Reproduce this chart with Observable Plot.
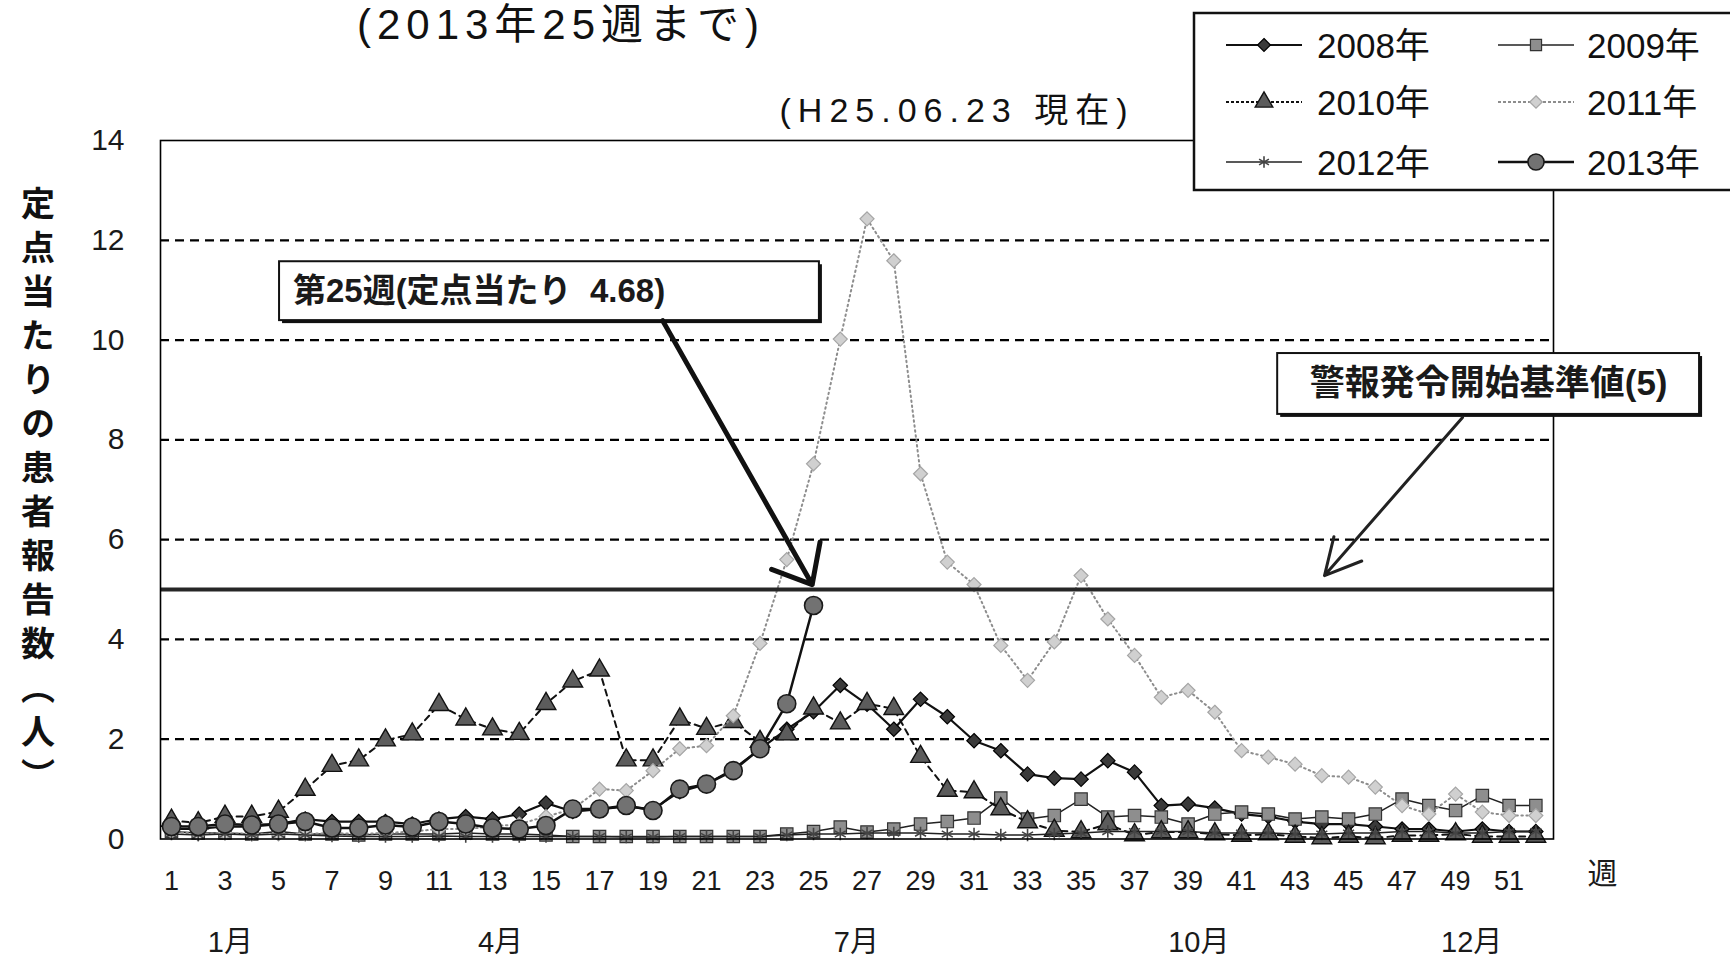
<!DOCTYPE html>
<html><head><meta charset="utf-8">
<script src="https://cdn.jsdelivr.net/npm/d3@7"></script>
<script src="https://cdn.jsdelivr.net/npm/@observablehq/plot@0.6"></script>
<style>
html,body{margin:0;padding:0;background:#fff;}
#chart svg{display:block;}
</style></head>
<body><div id="chart"></div>
<script>
// ---------- data ----------
const weeks = [1,2,3,4,5,6,7,8,9,10,11,12,13,14,15,16,17,18,19,20,21,22,23,24,25,26,27,28,29,30,31,32,33,34,35,36,37,38,39,40,41,42,43,44,45,46,47,48,49,50,51,52];
const cases2008 = [0.2,0.2,0.25,0.25,0.3,0.4,0.35,0.35,0.35,0.3, 0.4,0.45,0.4,0.5,0.72,0.55,0.6,0.65,0.6,0.95, 1.1,1.4,1.8,2.2,2.55,3.08,2.7,2.2,2.8,2.45, 1.97,1.77,1.3,1.22,1.2,1.57,1.34,0.67,0.7,0.62, 0.5,0.45,0.35,0.3,0.3,0.25,0.2,0.2,0.15,0.2,0.15,0.15];
const cases2009 = [0.15,0.12,0.12,0.1,0.15,0.1,0.1,0.08,0.1,0.1, 0.1,0.12,0.1,0.1,0.08,0.05,0.05,0.05,0.05,0.05, 0.05,0.05,0.05,0.1,0.15,0.24,0.14,0.2,0.3,0.35, 0.42,0.82,0.4,0.47,0.8,0.44,0.47,0.44,0.3,0.5, 0.54,0.5,0.4,0.44,0.4,0.5,0.8,0.67,0.57,0.87,0.67,0.67];
const cases2010 = [0.37,0.32,0.45,0.45,0.55,0.99,1.47,1.58,1.98,2.1, 2.69,2.4,2.2,2.11,2.71,3.16,3.38,1.58,1.58,2.4, 2.21,2.35,1.95,2.1,2.62,2.32,2.71,2.61,1.65,0.97, 0.94,0.6,0.34,0.17,0.14,0.3,0.08,0.14,0.14,0.1, 0.07,0.1,0.05,0.02,0.05,0.02,0.07,0.07,0.1,0.05,0.05,0.05];
const cases2011 = [0.15,0.1,0.12,0.1,0.1,0.1,0.12,0.1,0.12,0.15, 0.2,0.2,0.25,0.3,0.45,0.6,1.0,0.97,1.37,1.81, 1.87,2.47,3.92,5.6,7.52,10.02,12.43,11.59,7.32,5.55, 5.1,3.88,3.18,3.95,5.28,4.41,3.68,2.84,2.98,2.54, 1.77,1.64,1.5,1.27,1.24,1.04,0.67,0.5,0.9,0.54,0.47,0.47];
const cases2012 = [0.1,0.08,0.1,0.08,0.1,0.08,0.06,0.05,0.05,0.05, 0.06,0.05,0.05,0.05,0.05,0.05,0.05,0.04,0.04,0.05, 0.05,0.05,0.05,0.08,0.1,0.1,0.12,0.12,0.12,0.1, 0.1,0.08,0.08,0.1,0.12,0.15,0.15,0.15,0.15,0.12, 0.12,0.12,0.1,0.1,0.12,0.12,0.15,0.15,0.12,0.12,0.15,0.15];
const cases2013 = [0.25,0.25,0.3,0.28,0.3,0.35,0.22,0.22,0.28,0.24, 0.35,0.3,0.22,0.2,0.27,0.6,0.6,0.67,0.57,1.0, 1.1,1.37,1.81,2.71,4.68];

const seriesNames = ["2008年","2009年","2010年","2011年","2012年","2013年"];
const seriesValues = [cases2008, cases2009, cases2010, cases2011, cases2012, cases2013];

const yTicks = [0,2,4,6,8,10,12,14];
const gridValues = [2,4,6,8,10,12];
const xTicks = [1,3,5,7,9,11,13,15,17,19,21,23,25,27,29,31,33,35,37,39,41,43,45,47,49,51];
const monthLabels = ["1月","4月","7月","10月","12月"];
const monthWeeks = [3.2,13.3,26.6,39.4,49.6];
const alertLevel = 5;
const latestWeek = 25;
const latestValue = 4.68;

const titleText = "(2013年25週まで)";
const subtitleText = "(H25.06.23 現在)";
const yLabelText = "定点当たりの患者報告数（人）";
const xUnitText = "週";
const noteLatest = "第25週(定点当たり  4.68)";
const noteAlert = "警報発令開始基準値(5)";

// ---------- styles ----------
const FONT = "'Liberation Sans','Noto Sans CJK JP',sans-serif";
const styles = {
  "2008年": {stroke:"#111", sw:2.2, dash:null, symbol:"diamond2", r:6.5, fill:"#3a3a3a", mstroke:"#000", msw:1.2},
  "2009年": {stroke:"#222", sw:1.5, dash:null, symbol:"square", r:7, fill:"#8e8e8e", mstroke:"#333", msw:1.2},
  "2010年": {stroke:"#111", sw:2, dash:"6,5", symbol:"triangle", r:7.3, fill:"#5c5c5c", mstroke:"#111", msw:1.4},
  "2011年": {stroke:"#8d8d8d", sw:2, dash:"1.5,3.5", symbol:"diamond2", r:6.3, fill:"#d0d0d0", mstroke:"#a5a5a5", msw:1.2},
  "2012年": {stroke:"#222", sw:1.5, dash:null, symbol:"asterisk", r:6, fill:"none", mstroke:"#444", msw:1.6},
  "2013年": {stroke:"#111", sw:2.5, dash:null, symbol:"circle", r:9, fill:"#727272", mstroke:"#1a1a1a", msw:1.6}
};

// ---------- build rows ----------
const seriesRows = seriesNames.map((name, i) =>
  seriesValues[i].map((v, j) => ({week: weeks[j], value: v, year: name})));

const seriesMarks = [];
seriesNames.forEach((name, i) => {
  const st = styles[name];
  seriesMarks.push(Plot.line(seriesRows[i], {x:"week", y:"value", stroke:st.stroke, strokeWidth:st.sw, strokeDasharray:st.dash ?? undefined, strokeLinecap: st.dash ? "round" : "butt"}));
  seriesMarks.push(Plot.dot(seriesRows[i], {x:"week", y:"value", symbol:()=>st.symbol, r:st.r, fill:st.fill, stroke:st.mstroke, strokeWidth:st.msw}));
});

const monthRows = monthLabels.map((m, i) => ({week: monthWeeks[i], label: m}));

// annotation layout (data space)
const latestBox = {x1:5.04, x2:25.22, y1:10.39, y2:11.57};
const alertBox = {x1:42.35, x2:58.12, y1:8.51, y2:9.73};
const arrowLatest = {x1:19.36, y1:10.39, x2:latestWeek - 0.05, y2:alertLevel + 0.1};
const arrowAlert = {x1:49.26, y1:8.45, x2:44.1, y2:alertLevel + 0.28};

const chart = Plot.plot({
  width: 1730, height: 971,
  marginLeft: 160, marginRight: 177, marginTop: 140, marginBottom: 132.5,
  x: {domain: [0.59, 52.66]},
  y: {domain: [0, 14]},
  style: {fontFamily: FONT, fontSize: "27px", color: "#1a1a1a", background: "white"},
  marks: [
    Plot.ruleY(gridValues, {stroke:"#000", strokeWidth:2.3, strokeDasharray:"9,6"}),
    Plot.axisY(yTicks, {tickSize:0, tickPadding:36, fontSize:30, label:null, tickFormat:d=>String(d)}),
    Plot.axisX(xTicks, {tickSize:0, tickPadding:32, fontSize:27, label:null, tickFormat:d=>String(d)}),
    Plot.text(monthRows, {x:"week", text:"label", frameAnchor:"bottom", dy:113, fontSize:29}),
    Plot.text([xUnitText], {text:d=>d, frameAnchor:"bottom-right", dx:49, dy:45, fontSize:30, textAnchor:"middle"}),
    ...seriesMarks,
    Plot.ruleY([alertLevel], {stroke:"#262626", strokeWidth:4}),
    Plot.frame({stroke:"#000", strokeWidth:1.6}),
    // annotation boxes
    Plot.rect([latestBox, alertBox], {x1:"x1", x2:"x2", y1:"y1", y2:"y2", fill:"#111", dx:3, dy:3}),
    Plot.rect([latestBox, alertBox], {x1:"x1", x2:"x2", y1:"y1", y2:"y2", fill:"white", stroke:"#111", strokeWidth:2}),
    Plot.text([noteLatest], {text:d=>d, x:()=>latestBox.x1 + 0.5, y:()=>(latestBox.y1+latestBox.y2)/2, textAnchor:"start", fontSize:33, fontWeight:"bold"}),
    Plot.text([noteAlert], {text:d=>d, x:()=>(alertBox.x1+alertBox.x2)/2, y:()=>(alertBox.y1+alertBox.y2)/2, textAnchor:"middle", fontSize:35, fontWeight:"bold"}),
    Plot.arrow([arrowLatest], {x1:"x1", y1:"y1", x2:"x2", y2:"y2", stroke:"#111", strokeWidth:5, headLength:13, headAngle:80}),
    Plot.arrow([arrowAlert], {x1:"x1", y1:"y1", x2:"x2", y2:"y2", stroke:"#222", strokeWidth:3, headLength:20, headAngle:55})
  ]
});
document.getElementById("chart").appendChild(chart);

// ---------- titles, axis label, legend ----------
const svg = d3.select(chart);
svg.append("text").attr("x", 561).attr("y", 24).attr("text-anchor","middle").attr("dominant-baseline","central")
  .attr("font-family", FONT).attr("font-size", 42).attr("letter-spacing", 6).attr("fill","#111").text(titleText);
svg.append("text").attr("x", 957).attr("y", 110).attr("text-anchor","middle").attr("dominant-baseline","central")
  .attr("font-family", FONT).attr("font-size", 34).attr("letter-spacing", 7).attr("fill","#111").text(subtitleText);
svg.append("text").attr("x", 38).attr("y", 494).attr("text-anchor","middle")
  .style("writing-mode","vertical-rl").style("text-orientation","upright")
  .attr("font-family", "'Noto Sans CJK JP',sans-serif").attr("font-size", 34).attr("letter-spacing", 10)
  .attr("font-weight","bold").attr("fill","#111").text(yLabelText);

const leg = svg.append("g");
leg.append("rect").attr("x",1194).attr("y",13).attr("width",560).attr("height",177)
  .attr("fill","white").attr("stroke","#111").attr("stroke-width",2.5);
const colSym = [1264, 1536], colText = [1317, 1587], rowY = [45, 102, 162];
const symMap = {diamond2: d3.symbolDiamond2, square: d3.symbolSquare, triangle: d3.symbolTriangle, asterisk: d3.symbolAsterisk, circle: d3.symbolCircle};
seriesNames.forEach((name, i) => {
  const st = styles[name];
  const cx = colSym[i % 2], cy = rowY[Math.floor(i / 2)];
  leg.append("line").attr("x1", cx - 38).attr("x2", cx + 38).attr("y1", cy).attr("y2", cy)
    .attr("stroke", st.stroke).attr("stroke-width", st.sw).attr("stroke-dasharray", st.dash ? "3,2" : null);
  leg.append("path").attr("transform", `translate(${cx},${cy})`)
    .attr("d", d3.symbol(symMap[st.symbol], st.r * st.r * Math.PI * 0.8)())
    .attr("fill", st.fill).attr("stroke", st.mstroke).attr("stroke-width", st.msw);
  leg.append("text").attr("x", colText[i % 2]).attr("y", cy).attr("text-anchor","start").attr("dominant-baseline","central")
    .attr("font-family", FONT).attr("font-size", 35).attr("fill","#111").text(name);
});
</script>
</body></html>
